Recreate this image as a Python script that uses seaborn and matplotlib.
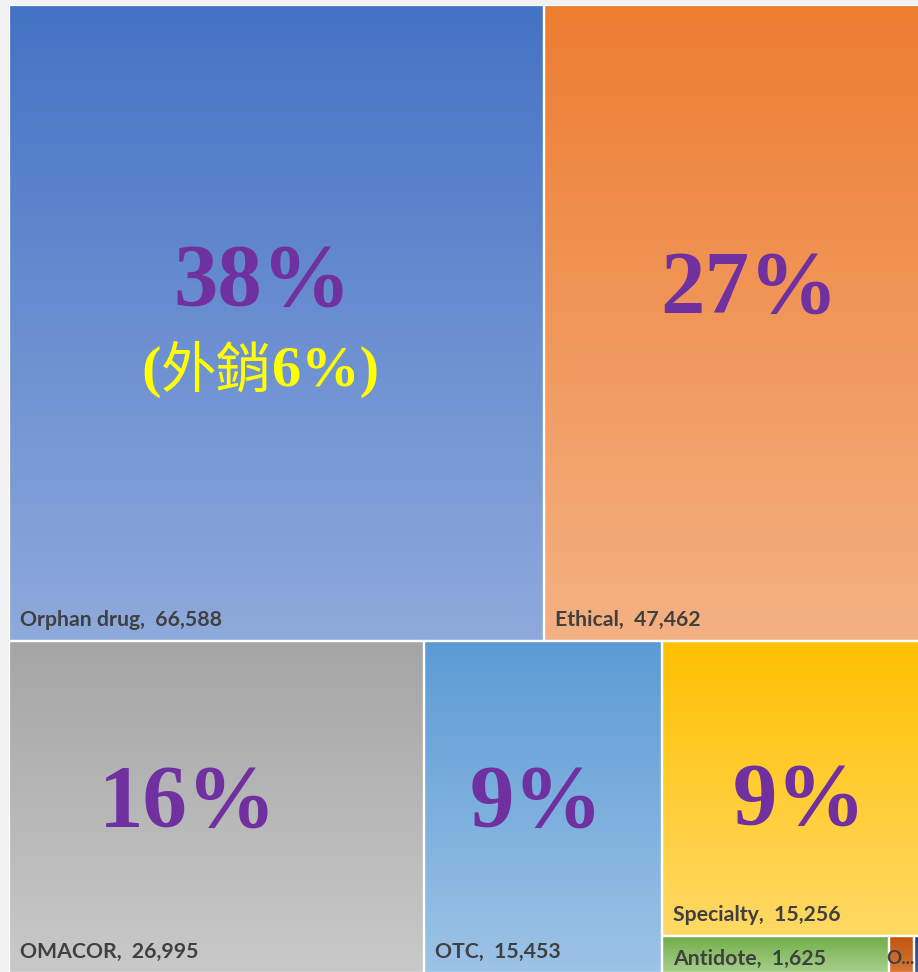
import numpy as np
import matplotlib
matplotlib.use("Agg")
import matplotlib.pyplot as plt
import seaborn as sns
from matplotlib.colors import LinearSegmentedColormap
from matplotlib.patches import Rectangle

sns.set_theme(style="white")
plt.rcParams['font.family'] = ['DejaVu Sans', 'Noto Sans CJK TC']

# ---------------- data ----------------
categories = ["Orphan drug", "Ethical", "OMACOR", "OTC", "Specialty", "Antidote", "Others", "Other2"]
values = [66588, 47462, 26995, 15453, 15256, 1625, 181, 87]
pct_labels = ["38%", "27%", "16%", "9%", "9%", None, None, None]
tile_labels = ["Orphan drug,  66,588", "Ethical,  47,462", "OMACOR,  26,995", "OTC,  15,453",
               "Specialty,  15,256", "Antidote,  1,625", "O...", ""]
top_colors = ["#4472C4", "#ED7D31", "#A5A5A5", "#5B9BD5", "#FFC000", "#70AD47", "#C0540E", "#264478"]
bot_colors = ["#8FAADC", "#F4B183", "#C9C9C9", "#9DC3E6", "#FFD966", "#A9D18E", "#D9773A", "#3A5E9E"]
sub_note = ["(", "外銷", "6%)"]

# ---------------- layout (treemap: top strip, bottom strip, nested column) -------------
v = dict(zip(categories, values))
T = sum(values)
rects = {}
h_top = (v["Orphan drug"] + v["Ethical"]) / T
x = 0.0
for c in ["Orphan drug", "Ethical"]:
    w = v[c] / (v["Orphan drug"] + v["Ethical"])
    rects[c] = (x, 0.0, x + w, h_top)
    x += w
col_sum = v["Specialty"] + v["Antidote"] + v["Others"] + v["Other2"]
bot_sum = v["OMACOR"] + v["OTC"] + col_sum
x = 0.0
for c in ["OMACOR", "OTC"]:
    w = v[c] / bot_sum
    rects[c] = (x, h_top, x + w, 1.0)
    x += w
col_x0 = x
spec_h = (1.0 - h_top) * v["Specialty"] / col_sum
rects["Specialty"] = (col_x0, h_top, 1.0, h_top + spec_h)
small_sum = v["Antidote"] + v["Others"] + v["Other2"]
xx = col_x0
for c in ["Antidote", "Others", "Other2"]:
    w = (1.0 - col_x0) * v[c] / small_sum
    rects[c] = (xx, h_top + spec_h, xx + w, 1.0)
    xx += w

# ---------------- figure ----------------
W_PX, H_PX = 918, 972
fig = plt.figure(figsize=(W_PX / 100, H_PX / 100), dpi=100)
fig.patch.set_facecolor("#F2F2F2")
ax_w_px, ax_h_px = 917, 968
ax = fig.add_axes([9 / W_PX, (H_PX - 973) / H_PX, ax_w_px / W_PX, ax_h_px / H_PX])
px = 1 / ax_w_px
py = 1 / ax_h_px

grad = np.linspace(0, 1, 256).reshape(-1, 1)
for i, c in enumerate(categories):
    x0, y0, x1, y1 = rects[c]
    cmap = LinearSegmentedColormap.from_list(c, [top_colors[i], bot_colors[i]])
    ax.imshow(grad, extent=[x0, x1, y1, y0], aspect="auto", cmap=cmap,
              interpolation="bicubic", zorder=1)
    ax.add_patch(Rectangle((x0, y0), x1 - x0, y1 - y0, fill=False,
                           edgecolor="white", lw=1.6, zorder=2))

ax.set_xlim(0, 1)
ax.set_ylim(1, 0)
ax.axis("off")

# big percentages: position as fraction of each tile
pct_pos = {"Orphan drug": (0.474, 0.438), "Ethical": (0.538, 0.448), "OMACOR": (0.431, 0.492),
           "OTC": (0.472, 0.492), "Specialty": (0.52, 0.547)}
serif = ['Liberation Serif', 'DejaVu Serif']
for i, c in enumerate(categories):
    if pct_labels[i] is None:
        continue
    x0, y0, x1, y1 = rects[c]
    fx, fy = pct_pos[c]
    ax.text(x0 + fx * (x1 - x0), y0 + fy * (y1 - y0), pct_labels[i], family=serif,
            fontweight="bold", fontsize=64, color="#7030A0", ha="center", va="center", zorder=5)

# tile labels
lab_font = ['Lato', 'DejaVu Sans']
for i, c in enumerate(categories):
    if not tile_labels[i]:
        continue
    x0, y0, x1, y1 = rects[c]
    fs = 15.3
    if c == "Antidote":
        ty = (y0 + y1) / 2 + 4 * py
        tx = x0 + 11 * px
    elif c == "Others":
        ty = (y0 + y1) / 2 + 4 * py
        tx = x0 - 2 * px
        fs = 13.5
    else:
        ty = y1 - 21 * py
        tx = x0 + 11 * px
    ax.text(tx, ty, tile_labels[i], family=lab_font, fontweight="bold", fontsize=fs,
            color="#404040", ha="left", va="center", zorder=5)

# yellow sub-note "(外銷6%)" built from pieces
fig.canvas.draw()
renderer = fig.canvas.get_renderer()
x0, y0, x1, y1 = rects["Orphan drug"]
cy = y0 + 0.577 * (y1 - y0)
pieces = []
for s in sub_note:
    if s == "外銷":
        t = ax.text(0, cy, s, family=['Noto Sans CJK TC'], fontweight="normal", fontsize=40,
                    color="#FFFF00", ha="left", va="center", zorder=6)
    else:
        t = ax.text(0, cy, s, family=serif, fontweight="bold", fontsize=42,
                    color="#FFFF00", ha="left", va="center", zorder=6)
    pieces.append(t)
widths = []
for t in pieces:
    bb = t.get_window_extent(renderer)
    widths.append(bb.width / ax_w_px)
total_w = sum(widths)
cx = x0 + 0.47 * (x1 - x0)
start = cx - total_w / 2
for t, w in zip(pieces, widths):
    t.set_x(start)
    start += w

fig.savefig("out.png", dpi=100, facecolor=fig.get_facecolor())
